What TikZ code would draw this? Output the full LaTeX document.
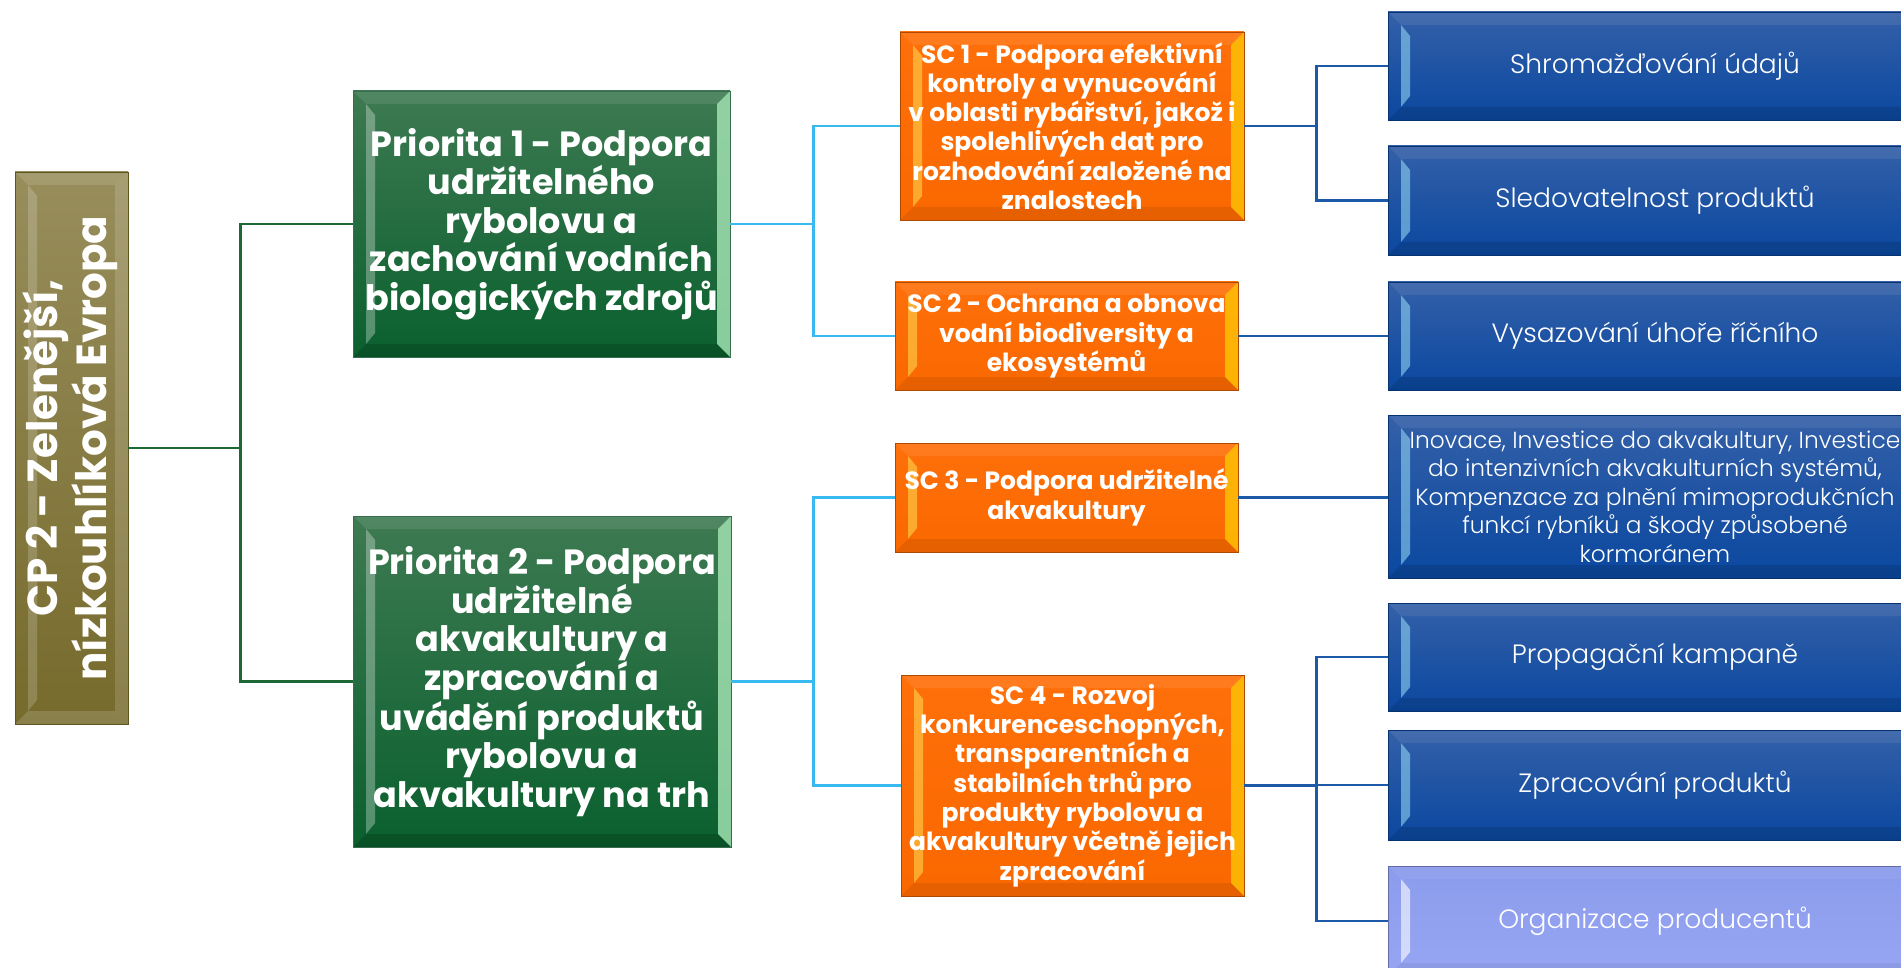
\documentclass[tikz,border=0pt]{standalone}
\usepackage{fontspec}
\usepackage{graphicx}
\setmainfont{Poppins}
\newfontfamily\lightfont{Poppins Light}
\usetikzlibrary{calc}
\definecolor{olivetop}{RGB}{152,142,92}
\definecolor{olivebot}{RGB}{118,106,44}
\definecolor{greentop}{RGB}{62,122,82}
\definecolor{greenbot}{RGB}{10,96,46}
\definecolor{orangetop}{RGB}{255,112,10}
\definecolor{orangebot}{RGB}{250,104,0}
\definecolor{bluetop}{RGB}{52,96,168}
\definecolor{bluebot}{RGB}{10,72,160}
\definecolor{lavtop}{RGB}{140,156,236}
\definecolor{lavbot}{RGB}{150,166,244}
\definecolor{gline}{RGB}{28,104,54}
\definecolor{cline}{RGB}{56,186,240}
\definecolor{bline}{RGB}{28,90,168}
\definecolor{mint}{RGB}{160,224,176}
\tikzset{
  bevel/.style n args={4}{path picture={
    \path (path picture bounding box.north west) coordinate (bNW)
          (path picture bounding box.north east) coordinate (bNE)
          (path picture bounding box.south west) coordinate (bSW)
          (path picture bounding box.south east) coordinate (bSE);
    \fill[#1] (bNW) -- (bNE) -- ($(bNE)+(-13pt,-13pt)$) -- ($(bNW)+(13pt,-13pt)$) -- cycle;
    \fill[#2] (bSW) -- (bSE) -- ($(bSE)+(-13pt,13pt)$) -- ($(bSW)+(13pt,13pt)$) -- cycle;
    \fill[#3] ($(bNW)+(13pt,-13pt)$) -- ($(bNW)+(22pt,-24pt)$) -- ($(bSW)+(22pt,24pt)$) -- ($(bSW)+(13pt,13pt)$) -- cycle;
    \fill[#4] (bNE) -- ($(bNE)+(-13pt,-13pt)$) -- ($(bSE)+(-13pt,13pt)$) -- (bSE) -- cycle;
  }},
  boxbase/.style={inner sep=0pt, align=center, text=white, line width=0.8pt},
  cpbox/.style={boxbase, draw=olivebot!80!black, top color=olivetop, bottom color=olivebot,
    bevel={white,opacity=0.12}{white,opacity=0.15}{white,opacity=0.18}{white,opacity=0.15},
    font=\bfseries\fontsize{42}{46}\selectfont},
  prbox/.style={boxbase, draw=greenbot!60!gray, top color=greentop, bottom color=greenbot,
    bevel={white,opacity=0.1}{black,opacity=0.15}{white,opacity=0.3}{mint,opacity=0.85},
    font=\bfseries\fontsize{35}{38.5}\selectfont},
  scbox/.style={boxbase, draw=orangebot!70!black, top color=orangetop, bottom color=orangebot,
    bevel={white,opacity=0.08}{black,opacity=0.08}{yellow!60!white,opacity=0.45}{yellow!70!orange,opacity=0.7},
    font=\bfseries\fontsize{25}{29.3}\selectfont},
  bluebox/.style={boxbase, draw=bluebot!70!black, top color=bluetop, bottom color=bluebot,
    bevel={white,opacity=0.08}{black,opacity=0.12}{cyan!40!white,opacity=0.55}{black,opacity=0.1},
    font=\lightfont\fontsize{26.5}{28}\selectfont},
  lavbox/.style={boxbase, draw=lavtop!70!black, top color=lavtop, bottom color=lavbot,
    bevel={white,opacity=0.05}{black,opacity=0.06}{white,opacity=0.6}{black,opacity=0.05},
    font=\lightfont\fontsize{26.5}{28}\selectfont},
  gconn/.style={draw=gline, line width=2.4pt},
  cconn/.style={draw=cline, line width=2.6pt},
  bconn/.style={draw=bline, line width=2.4pt},
}
\begin{document}
\begin{tikzpicture}[x=1pt,y=-1pt]
\path[use as bounding box, clip] (0,0) rectangle (1901,968);
\fill[white] (0,0) rectangle (1901,968);

% level 0
\node[cpbox, minimum width=113pt, minimum height=552pt] (cp) at (71.5,448)
  {\rotatebox{90}{\begin{tabular}{@{}c@{}}CP 2 - Zelenější,\\nízkouhlíková Evropa\end{tabular}}};

% level 1
\node[prbox, minimum width=377pt, minimum height=266pt] (p1) at (541.5,224)
  {Priorita 1 - Podpora\\udržitelného\\rybolovu a\\zachování vodních\\biologických zdrojů};
\node[prbox, minimum width=378pt, minimum height=331pt] (p2) at (542,681.5)
  {Priorita 2 - Podpora\\udržitelné\\akvakultury a\\zpracování a\\uvádění produktů\\rybolovu a\\akvakultury na trh};

% level 2
\node[scbox, minimum width=344pt, minimum height=188pt] (sc1) at (1072,126)
  {SC 1 - Podpora efektivní\\kontroly a vynucování\\v oblasti rybářství, jakož i\\spolehlivých dat pro\\rozhodování založené na\\znalostech};
\node[scbox, minimum width=343pt, minimum height=108pt] (sc2) at (1066.5,336)
  {SC 2 - Ochrana a obnova\\vodní biodiversity a\\ekosystémů};
\node[scbox, minimum width=343pt, minimum height=109pt] (sc3) at (1066.5,497.5)
  {SC 3 - Podpora udržitelné\\akvakultury};
\node[scbox, minimum width=343pt, minimum height=221pt] (sc4) at (1072.5,785.5)
  {SC 4 - Rozvoj\\konkurenceschopných,\\transparentních a\\stabilních trhů pro\\produkty rybolovu a\\akvakultury včetně jejich\\zpracování};

% level 3
\node[bluebox, minimum width=534pt, minimum height=108pt] (b1) at (1655,66) {Shromažďování údajů};
\node[bluebox, minimum width=534pt, minimum height=109pt] (b2) at (1655,200.5) {Sledovatelnost produktů};
\node[bluebox, minimum width=534pt, minimum height=108pt] (b3) at (1655,336) {Vysazování úhoře říčního};
\node[bluebox, minimum width=534pt, minimum height=163pt, font=\lightfont\fontsize{23.3}{28.5}\selectfont] (b4) at (1655,496.5)
  {Inovace, Investice do akvakultury, Investice\\do intenzivních akvakulturních systémů,\\Kompenzace za plnění mimoprodukčních\\funkcí rybníků a škody způsobené\\kormoránem};
\node[bluebox, minimum width=534pt, minimum height=108pt] (b5) at (1655,657) {Propagační kampaně};
\node[bluebox, minimum width=534pt, minimum height=110pt] (b6) at (1655,785) {Zpracování produktů};
\node[lavbox, minimum width=534pt, minimum height=110pt] (b7) at (1655,921) {Organizace producentů};

% connectors
\draw[gconn] (cp.east) -- ++(112,0) coordinate (gj) |- (p1.west);
\draw[gconn] (gj) |- (p2.west);
\draw[cconn] (p1.east) -- ++(83,0) coordinate (cj1) |- (sc1.west);
\draw[cconn] (cj1) |- (sc2.west);
\draw[cconn] (p2.east) -- ++(82,0) coordinate (cj2) |- (sc3.west);
\draw[cconn] (cj2) |- (sc4.west);
\draw[bconn] (sc1.east) -- ++(72,0) coordinate (bj1) |- (b1.west);
\draw[bconn] (bj1) |- (b2.west);
\draw[bconn] (sc2.east) -- (b3.west);
\draw[bconn] (sc3.east) -- (sc3.east -| b4.west);
\draw[bconn] (sc4.east) -- ++(72,0) coordinate (bj4) |- (b5.west);
\draw[bconn] (bj4) |- (b6.west);
\draw[bconn] (bj4) |- (b7.west);
\end{tikzpicture}
\end{document}
